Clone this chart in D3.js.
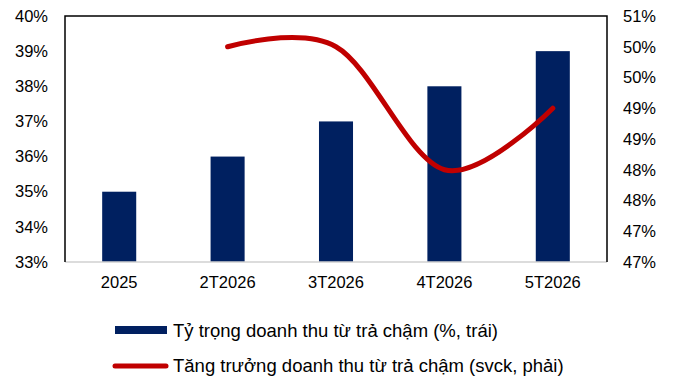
<!DOCTYPE html>
<html>
<head>
<meta charset="utf-8">
<script src="https://cdn.jsdelivr.net/npm/d3@7"></script>
<style>
  html, body { margin: 0; padding: 0; background: #ffffff; }
  svg { display: block; font-family: "Liberation Sans", Arial, sans-serif; }
</style>
</head>
<body>
<svg id="chart" width="678" height="378"></svg>
<script>
// Categories and series
const categories = ["2025", "2T2026", "3T2026", "4T2026", "5T2026"];
const shareValues = [35, 36, 37, 38, 39];            // % of revenue (left axis)
const growthValues = [null, 50.5, 50.5, 48.5, 49.5];  // yoy growth (right axis)

// Axis ticks
const leftTicks = [33, 34, 35, 36, 37, 38, 39, 40];
const leftTickLabels = ["33%", "34%", "35%", "36%", "37%", "38%", "39%", "40%"];
const rightTicks = [47, 47.5, 48, 48.5, 49, 49.5, 50, 50.5, 51];
const rightTickLabels = ["47%", "47%", "48%", "48%", "49%", "49%", "50%", "50%", "51%"];

const legendLabels = [
  "Tỷ trọng doanh thu từ trả chậm (%, trái)",
  "Tăng trưởng doanh thu từ trả chậm (svck, phải)"
];

const BAR = "#002060", LINE = "#C00000", FONT = 16.5, LEGEND_FONT = 18.5;
const m = { left: 65, right: 607, top: 16, bottom: 262 };
const svg = d3.select("#chart");

const x = d3.scaleBand().domain(categories).range([m.left, m.right]).paddingInner(0.686).paddingOuter(0.343);
const yL = d3.scaleLinear().domain([33, 40]).range([m.bottom, m.top]);
const yR = d3.scaleLinear().domain([47, 51]).range([m.bottom, m.top]);

// Bars
svg.append("g").selectAll("rect").data(categories).join("rect")
  .attr("x", d => x(d))
  .attr("y", (d, i) => yL(shareValues[i]))
  .attr("width", x.bandwidth())
  .attr("height", (d, i) => m.bottom - yL(shareValues[i]))
  .attr("fill", BAR);

// Frame: black left/top/right, grey baseline
svg.append("line").attr("x1", m.left).attr("x2", m.right).attr("y1", m.bottom).attr("y2", m.bottom)
  .attr("stroke", "#d0d0d0").attr("stroke-width", 1.5);
svg.append("path")
  .attr("d", `M${m.left},${m.bottom}V${m.top}H${m.right}V${m.bottom}`)
  .attr("fill", "none").attr("stroke", "#000").attr("stroke-width", 1.5);

// Left axis
const leftAxis = d3.axisLeft(yL).tickValues(leftTicks)
  .tickFormat((d, i) => leftTickLabels[i]).tickSize(0).tickPadding(17);
svg.append("g").attr("transform", `translate(${m.left},0)`).call(leftAxis)
  .call(g => g.select(".domain").remove())
  .selectAll("text").attr("font-size", FONT).attr("fill", "#000")
  .attr("font-family", "Liberation Sans, Arial, sans-serif");

// Right axis
const rightAxis = d3.axisRight(yR).tickValues(rightTicks)
  .tickFormat((d, i) => rightTickLabels[i]).tickSize(0).tickPadding(16);
svg.append("g").attr("transform", `translate(${m.right},0)`).call(rightAxis)
  .call(g => g.select(".domain").remove())
  .selectAll("text").attr("font-size", FONT).attr("fill", "#000")
  .attr("font-family", "Liberation Sans, Arial, sans-serif");

// Category axis
const bottomAxis = d3.axisBottom(x).tickSize(0).tickPadding(14);
svg.append("g").attr("transform", `translate(0,${m.bottom})`).call(bottomAxis)
  .call(g => g.select(".domain").remove())
  .selectAll("text").attr("font-size", FONT).attr("fill", "#000")
  .attr("font-family", "Liberation Sans, Arial, sans-serif");

// Growth line (smoothed)
const pts = categories.map((c, i) => [x(c) + x.bandwidth() / 2, growthValues[i]])
  .filter(p => p[1] != null);
svg.append("path")
  .datum(pts)
  .attr("d", d3.line().x(p => p[0]).y(p => yR(p[1])).curve(d3.curveCardinal.tension(0)))
  .attr("fill", "none").attr("stroke", LINE).attr("stroke-width", 5)
  .attr("stroke-linecap", "round").attr("stroke-linejoin", "round");

// Legend
const lg = svg.append("g").attr("font-size", LEGEND_FONT).attr("fill", "#000");
lg.append("rect").attr("x", 115).attr("y", 326).attr("width", 52).attr("height", 8).attr("fill", BAR);
lg.append("text").attr("x", 173).attr("y", 331).attr("dy", "0.35em").text(legendLabels[0]);
lg.append("line").attr("x1", 115).attr("x2", 166).attr("y1", 366).attr("y2", 366)
  .attr("stroke", LINE).attr("stroke-width", 5).attr("stroke-linecap", "round");
lg.append("text").attr("x", 173).attr("y", 366).attr("dy", "0.35em").text(legendLabels[1]);
</script>
</body>
</html>
